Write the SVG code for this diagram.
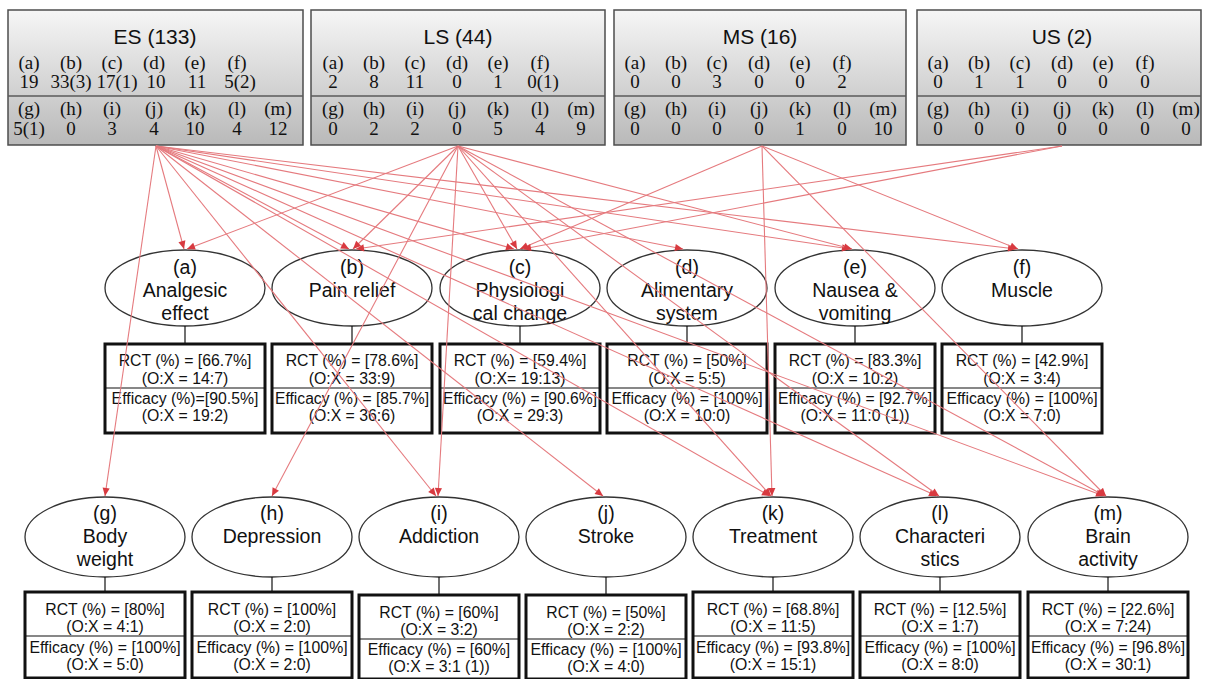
<svg xmlns="http://www.w3.org/2000/svg" width="1207" height="679" viewBox="0 0 1207 679">
<defs>
<linearGradient id="gbox" x1="0" y1="0" x2="0" y2="1">
<stop offset="0" stop-color="#f6f6f6"/>
<stop offset="1" stop-color="#b9b9b9"/>
</linearGradient>
<marker id="ah" viewBox="0 0 10 10" refX="10" refY="5" markerWidth="9" markerHeight="8" markerUnits="userSpaceOnUse" orient="auto">
<path d="M0,0.5 L10,5 L0,9.5 z" fill="#d83a40"/>
</marker>
</defs>
<style>
.src{fill:url(#gbox);stroke:#4d4d4d;stroke-width:1.5}
.div{stroke:#5a5a5a;stroke-width:1.5}
.ttl{font-family:"Liberation Sans",Arial,sans-serif;font-size:21px;fill:#111;text-anchor:middle}
.num{font-family:"Liberation Serif","Times New Roman",serif;font-size:19px;fill:#111;text-anchor:middle}
.ell{fill:none;stroke:#333;stroke-width:1.3}
.lbl{font-family:"Liberation Sans",Arial,sans-serif;font-size:19.5px;fill:#111;text-anchor:middle}
.stat{fill:#fff;stroke:#111;stroke-width:3}
.sdiv{stroke:#111;stroke-width:1.2}
.st{font-family:"Liberation Sans",Arial,sans-serif;font-size:15.8px;fill:#111;text-anchor:middle}
.tick{stroke:#111;stroke-width:1.2}
.edge{stroke:#e57a7e;stroke-width:1.1;fill:none;marker-end:url(#ah)}
</style>
<rect width="1207" height="679" fill="#fff"/>

<g id="ES">
<rect class="src" x="8" y="10" width="295" height="135"/>
<line class="div" x1="8" y1="96" x2="303" y2="96"/>
<text class="ttl" x="155" y="44">ES (133)</text>
<text class="num" y="69"><tspan x="29">(a)</tspan><tspan x="71">(b)</tspan><tspan x="112">(c)</tspan><tspan x="154">(d)</tspan><tspan x="195">(e)</tspan><tspan x="237">(f)</tspan></text>
<text class="num" y="88"><tspan x="29">19</tspan><tspan x="71">33(3)</tspan><tspan x="117">17(1)</tspan><tspan x="156">10</tspan><tspan x="197">11</tspan><tspan x="240">5(2)</tspan></text>
<text class="num" y="115"><tspan x="29">(g)</tspan><tspan x="71">(h)</tspan><tspan x="112">(i)</tspan><tspan x="154">(j)</tspan><tspan x="195">(k)</tspan><tspan x="237">(l)</tspan><tspan x="278">(m)</tspan></text>
<text class="num" y="135"><tspan x="29">5(1)</tspan><tspan x="71">0</tspan><tspan x="112">3</tspan><tspan x="154">4</tspan><tspan x="195">10</tspan><tspan x="237">4</tspan><tspan x="278">12</tspan></text>
</g>

<g id="LS">
<rect class="src" x="311" y="10" width="294" height="135"/>
<line class="div" x1="311" y1="96" x2="605" y2="96"/>
<text class="ttl" x="458" y="44">LS (44)</text>
<text class="num" y="69"><tspan x="333">(a)</tspan><tspan x="374">(b)</tspan><tspan x="415">(c)</tspan><tspan x="457">(d)</tspan><tspan x="498">(e)</tspan><tspan x="540">(f)</tspan></text>
<text class="num" y="88"><tspan x="333">2</tspan><tspan x="374">8</tspan><tspan x="415">11</tspan><tspan x="457">0</tspan><tspan x="498">1</tspan><tspan x="543">0(1)</tspan></text>
<text class="num" y="115"><tspan x="333">(g)</tspan><tspan x="374">(h)</tspan><tspan x="415">(i)</tspan><tspan x="457">(j)</tspan><tspan x="498">(k)</tspan><tspan x="540">(l)</tspan><tspan x="581">(m)</tspan></text>
<text class="num" y="135"><tspan x="333">0</tspan><tspan x="374">2</tspan><tspan x="415">2</tspan><tspan x="457">0</tspan><tspan x="498">5</tspan><tspan x="540">4</tspan><tspan x="581">9</tspan></text>
</g>

<g id="MS">
<rect class="src" x="614" y="10" width="292" height="135"/>
<line class="div" x1="614" y1="96" x2="906" y2="96"/>
<text class="ttl" x="760" y="44">MS (16)</text>
<text class="num" y="69"><tspan x="635">(a)</tspan><tspan x="676">(b)</tspan><tspan x="717">(c)</tspan><tspan x="759">(d)</tspan><tspan x="800">(e)</tspan><tspan x="842">(f)</tspan></text>
<text class="num" y="88"><tspan x="635">0</tspan><tspan x="676">0</tspan><tspan x="717">3</tspan><tspan x="759">0</tspan><tspan x="800">0</tspan><tspan x="842">2</tspan></text>
<text class="num" y="115"><tspan x="635">(g)</tspan><tspan x="676">(h)</tspan><tspan x="717">(i)</tspan><tspan x="759">(j)</tspan><tspan x="800">(k)</tspan><tspan x="842">(l)</tspan><tspan x="883">(m)</tspan></text>
<text class="num" y="135"><tspan x="635">0</tspan><tspan x="676">0</tspan><tspan x="717">0</tspan><tspan x="759">0</tspan><tspan x="800">1</tspan><tspan x="842">0</tspan><tspan x="883">10</tspan></text>
</g>

<g id="US">
<rect class="src" x="917" y="10" width="284" height="135"/>
<line class="div" x1="917" y1="96" x2="1201" y2="96"/>
<text class="ttl" x="1062" y="44">US (2)</text>
<text class="num" y="69"><tspan x="938">(a)</tspan><tspan x="979">(b)</tspan><tspan x="1020">(c)</tspan><tspan x="1062">(d)</tspan><tspan x="1103">(e)</tspan><tspan x="1145">(f)</tspan></text>
<text class="num" y="88"><tspan x="938">0</tspan><tspan x="979">1</tspan><tspan x="1020">1</tspan><tspan x="1062">0</tspan><tspan x="1103">0</tspan><tspan x="1145">0</tspan></text>
<text class="num" y="115"><tspan x="938">(g)</tspan><tspan x="979">(h)</tspan><tspan x="1020">(i)</tspan><tspan x="1062">(j)</tspan><tspan x="1103">(k)</tspan><tspan x="1145">(l)</tspan><tspan x="1186">(m)</tspan></text>
<text class="num" y="135"><tspan x="938">0</tspan><tspan x="979">0</tspan><tspan x="1020">0</tspan><tspan x="1062">0</tspan><tspan x="1103">0</tspan><tspan x="1145">0</tspan><tspan x="1186">0</tspan></text>
</g>

<!-- middle row -->
<g id="node-a">
<ellipse class="ell" cx="185" cy="288" rx="80" ry="38"/>
<text class="lbl" x="185" y="274">(a)</text><text class="lbl" x="185" y="297">Analgesic</text><text class="lbl" x="185" y="320">effect</text>
<line class="tick" x1="185" y1="326" x2="185" y2="344"/>
<rect class="stat" x="105" y="344" width="160" height="89"/>
<line class="sdiv" x1="105" y1="388" x2="265" y2="388"/>
<text class="st" x="185" y="366">RCT (%) = [66.7%]</text><text class="st" x="185" y="384">(O:X = 14:7)</text>
<text class="st" x="185" y="404">Efficacy (%)=[90.5%]</text><text class="st" x="185" y="421">(O:X = 19:2)</text>
</g>
<g id="node-b">
<ellipse class="ell" cx="352" cy="288" rx="80" ry="38"/>
<text class="lbl" x="352" y="274">(b)</text><text class="lbl" x="352" y="297">Pain relief</text>
<line class="tick" x1="352" y1="326" x2="352" y2="344"/>
<rect class="stat" x="272" y="344" width="160" height="89"/>
<line class="sdiv" x1="272" y1="388" x2="432" y2="388"/>
<text class="st" x="352" y="366">RCT (%) = [78.6%]</text><text class="st" x="352" y="384">(O:X = 33:9)</text>
<text class="st" x="352" y="404" textLength="154" lengthAdjust="spacingAndGlyphs">Efficacy (%) = [85.7%]</text><text class="st" x="352" y="421">(O:X = 36:6)</text>
</g>
<g id="node-c">
<ellipse class="ell" cx="520" cy="288" rx="80" ry="38"/>
<text class="lbl" x="520" y="274">(c)</text><text class="lbl" x="520" y="297">Physiologi</text><text class="lbl" x="520" y="320">cal change</text>
<line class="tick" x1="520" y1="326" x2="520" y2="344"/>
<rect class="stat" x="440" y="344" width="160" height="89"/>
<line class="sdiv" x1="440" y1="388" x2="600" y2="388"/>
<text class="st" x="520" y="366">RCT (%) = [59.4%]</text><text class="st" x="520" y="384">(O:X=  19:13)</text>
<text class="st" x="520" y="404" textLength="154" lengthAdjust="spacingAndGlyphs">Efficacy (%) = [90.6%]</text><text class="st" x="520" y="421">(O:X = 29:3)</text>
</g>
<g id="node-d">
<ellipse class="ell" cx="687" cy="288" rx="80" ry="38"/>
<text class="lbl" x="687" y="274">(d)</text><text class="lbl" x="687" y="297">Alimentary</text><text class="lbl" x="687" y="320">system</text>
<line class="tick" x1="687" y1="326" x2="687" y2="344"/>
<rect class="stat" x="607" y="344" width="160" height="89"/>
<line class="sdiv" x1="607" y1="388" x2="767" y2="388"/>
<text class="st" x="687" y="366">RCT (%) = [50%]</text><text class="st" x="687" y="384">(O:X = 5:5)</text>
<text class="st" x="687" y="404">Efficacy (%) = [100%]</text><text class="st" x="687" y="421">(O:X = 10:0)</text>
</g>
<g id="node-e">
<ellipse class="ell" cx="855" cy="288" rx="80" ry="38"/>
<text class="lbl" x="855" y="274">(e)</text><text class="lbl" x="855" y="297">Nausea &amp;</text><text class="lbl" x="855" y="320">vomiting</text>
<line class="tick" x1="855" y1="326" x2="855" y2="344"/>
<rect class="stat" x="775" y="344" width="160" height="89"/>
<line class="sdiv" x1="775" y1="388" x2="935" y2="388"/>
<text class="st" x="855" y="366">RCT (%) = [83.3%]</text><text class="st" x="855" y="384">(O:X = 10:2)</text>
<text class="st" x="855" y="404" textLength="154" lengthAdjust="spacingAndGlyphs">Efficacy (%) = [92.7%]</text><text class="st" x="855" y="421">(O:X = 11:0  (1))</text>
</g>
<g id="node-f">
<ellipse class="ell" cx="1022" cy="288" rx="80" ry="38"/>
<text class="lbl" x="1022" y="274">(f)</text><text class="lbl" x="1022" y="297">Muscle</text>
<line class="tick" x1="1022" y1="326" x2="1022" y2="344"/>
<rect class="stat" x="942" y="344" width="160" height="89"/>
<line class="sdiv" x1="942" y1="388" x2="1102" y2="388"/>
<text class="st" x="1022" y="366">RCT (%) = [42.9%]</text><text class="st" x="1022" y="384">(O:X = 3:4)</text>
<text class="st" x="1022" y="404">Efficacy (%) = [100%]</text><text class="st" x="1022" y="421">(O:X = 7:0)</text>
</g>

<!-- bottom row -->
<g id="node-g">
<ellipse class="ell" cx="105" cy="537" rx="80" ry="40"/>
<text class="lbl" x="105" y="520">(g)</text><text class="lbl" x="105" y="543">Body</text><text class="lbl" x="105" y="566">weight</text>
<line class="tick" x1="105" y1="577" x2="105" y2="592"/>
<rect class="stat" x="25" y="592" width="160" height="86"/>
<line class="sdiv" x1="25" y1="636" x2="185" y2="636"/>
<text class="st" x="105" y="615">RCT (%) = [80%]</text><text class="st" x="105" y="632">(O:X = 4:1)</text>
<text class="st" x="105" y="653">Efficacy (%) = [100%]</text><text class="st" x="105" y="670">(O:X = 5:0)</text>
</g>
<g id="node-h">
<ellipse class="ell" cx="272" cy="537" rx="80" ry="40"/>
<text class="lbl" x="272" y="520">(h)</text><text class="lbl" x="272" y="543">Depression</text>
<line class="tick" x1="272" y1="577" x2="272" y2="592"/>
<rect class="stat" x="192" y="592" width="160" height="86"/>
<line class="sdiv" x1="192" y1="636" x2="352" y2="636"/>
<text class="st" x="272" y="615">RCT (%) = [100%]</text><text class="st" x="272" y="632">(O:X = 2:0)</text>
<text class="st" x="272" y="653">Efficacy (%) = [100%]</text><text class="st" x="272" y="670">(O:X = 2:0)</text>
</g>
<g id="node-i">
<ellipse class="ell" cx="439" cy="537" rx="80" ry="40"/>
<text class="lbl" x="439" y="520">(i)</text><text class="lbl" x="439" y="543">Addiction</text>
<line class="tick" x1="439" y1="577" x2="439" y2="595"/>
<rect class="stat" x="359" y="595" width="160" height="84"/>
<line class="sdiv" x1="359" y1="639" x2="519" y2="639"/>
<text class="st" x="439" y="618">RCT (%) = [60%]</text><text class="st" x="439" y="635">(O:X = 3:2)</text>
<text class="st" x="439" y="655">Efficacy (%) = [60%]</text><text class="st" x="439" y="672">(O:X = 3:1  (1))</text>
</g>
<g id="node-j">
<ellipse class="ell" cx="606" cy="537" rx="80" ry="40"/>
<text class="lbl" x="606" y="520">(j)</text><text class="lbl" x="606" y="543">Stroke</text>
<line class="tick" x1="606" y1="577" x2="606" y2="595"/>
<rect class="stat" x="526" y="595" width="160" height="84"/>
<line class="sdiv" x1="526" y1="639" x2="686" y2="639"/>
<text class="st" x="606" y="618">RCT (%) = [50%]</text><text class="st" x="606" y="635">(O:X = 2:2)</text>
<text class="st" x="606" y="655">Efficacy (%) = [100%]</text><text class="st" x="606" y="672">(O:X = 4:0)</text>
</g>
<g id="node-k">
<ellipse class="ell" cx="773" cy="537" rx="80" ry="40"/>
<text class="lbl" x="773" y="520">(k)</text><text class="lbl" x="773" y="543">Treatment</text>
<line class="tick" x1="773" y1="577" x2="773" y2="592"/>
<rect class="stat" x="693" y="592" width="160" height="86"/>
<line class="sdiv" x1="693" y1="636" x2="853" y2="636"/>
<text class="st" x="773" y="615">RCT (%) = [68.8%]</text><text class="st" x="773" y="632">(O:X = 11:5)</text>
<text class="st" x="773" y="653" textLength="154" lengthAdjust="spacingAndGlyphs">Efficacy (%) = [93.8%]</text><text class="st" x="773" y="670">(O:X = 15:1)</text>
</g>
<g id="node-l">
<ellipse class="ell" cx="940" cy="537" rx="80" ry="40"/>
<text class="lbl" x="940" y="520">(l)</text><text class="lbl" x="940" y="543">Characteri</text><text class="lbl" x="940" y="566">stics</text>
<line class="tick" x1="940" y1="577" x2="940" y2="592"/>
<rect class="stat" x="860" y="592" width="160" height="86"/>
<line class="sdiv" x1="860" y1="636" x2="1020" y2="636"/>
<text class="st" x="940" y="615">RCT (%) = [12.5%]</text><text class="st" x="940" y="632">(O:X = 1:7)</text>
<text class="st" x="940" y="653">Efficacy (%) = [100%]</text><text class="st" x="940" y="670">(O:X = 8:0)</text>
</g>
<g id="node-m">
<ellipse class="ell" cx="1108" cy="537" rx="80" ry="40"/>
<text class="lbl" x="1108" y="520">(m)</text><text class="lbl" x="1108" y="543">Brain</text><text class="lbl" x="1108" y="566">activity</text>
<line class="tick" x1="1108" y1="577" x2="1108" y2="592"/>
<rect class="stat" x="1028" y="592" width="160" height="86"/>
<line class="sdiv" x1="1028" y1="636" x2="1188" y2="636"/>
<text class="st" x="1108" y="615">RCT (%) = [22.6%]</text><text class="st" x="1108" y="632">(O:X = 7:24)</text>
<text class="st" x="1108" y="653" textLength="154" lengthAdjust="spacingAndGlyphs">Efficacy (%) = [96.8%]</text><text class="st" x="1108" y="670">(O:X = 30:1)</text>
</g>

<g id="connectors">
<line class="edge" x1="156" y1="146" x2="184" y2="249"/>
<line class="edge" x1="156" y1="146" x2="349" y2="249"/>
<line class="edge" x1="156" y1="146" x2="514" y2="249"/>
<line class="edge" x1="156" y1="146" x2="683" y2="249"/>
<line class="edge" x1="156" y1="146" x2="850" y2="249"/>
<line class="edge" x1="156" y1="146" x2="1016" y2="249"/>
<line class="edge" x1="156" y1="146" x2="105" y2="496"/>
<line class="edge" x1="156" y1="146" x2="436" y2="496"/>
<line class="edge" x1="156" y1="146" x2="603" y2="496"/>
<line class="edge" x1="156" y1="146" x2="770" y2="496"/>
<line class="edge" x1="156" y1="146" x2="937" y2="496"/>
<line class="edge" x1="156" y1="146" x2="1104" y2="496"/>
<line class="edge" x1="458" y1="146" x2="187" y2="249"/>
<line class="edge" x1="458" y1="146" x2="353" y2="249"/>
<line class="edge" x1="458" y1="146" x2="517" y2="249"/>
<line class="edge" x1="458" y1="146" x2="852" y2="249"/>
<line class="edge" x1="458" y1="146" x2="272" y2="496"/>
<line class="edge" x1="458" y1="146" x2="438" y2="496"/>
<line class="edge" x1="458" y1="146" x2="771" y2="496"/>
<line class="edge" x1="458" y1="146" x2="939" y2="496"/>
<line class="edge" x1="458" y1="146" x2="1105" y2="496"/>
<line class="edge" x1="762" y1="146" x2="520" y2="249"/>
<line class="edge" x1="762" y1="146" x2="1018" y2="249"/>
<line class="edge" x1="762" y1="146" x2="772" y2="496"/>
<line class="edge" x1="762" y1="146" x2="1106" y2="496"/>
<line class="edge" x1="1062" y1="146" x2="356" y2="249"/>
<line class="edge" x1="1062" y1="146" x2="523" y2="249"/>
</g>
</svg>
